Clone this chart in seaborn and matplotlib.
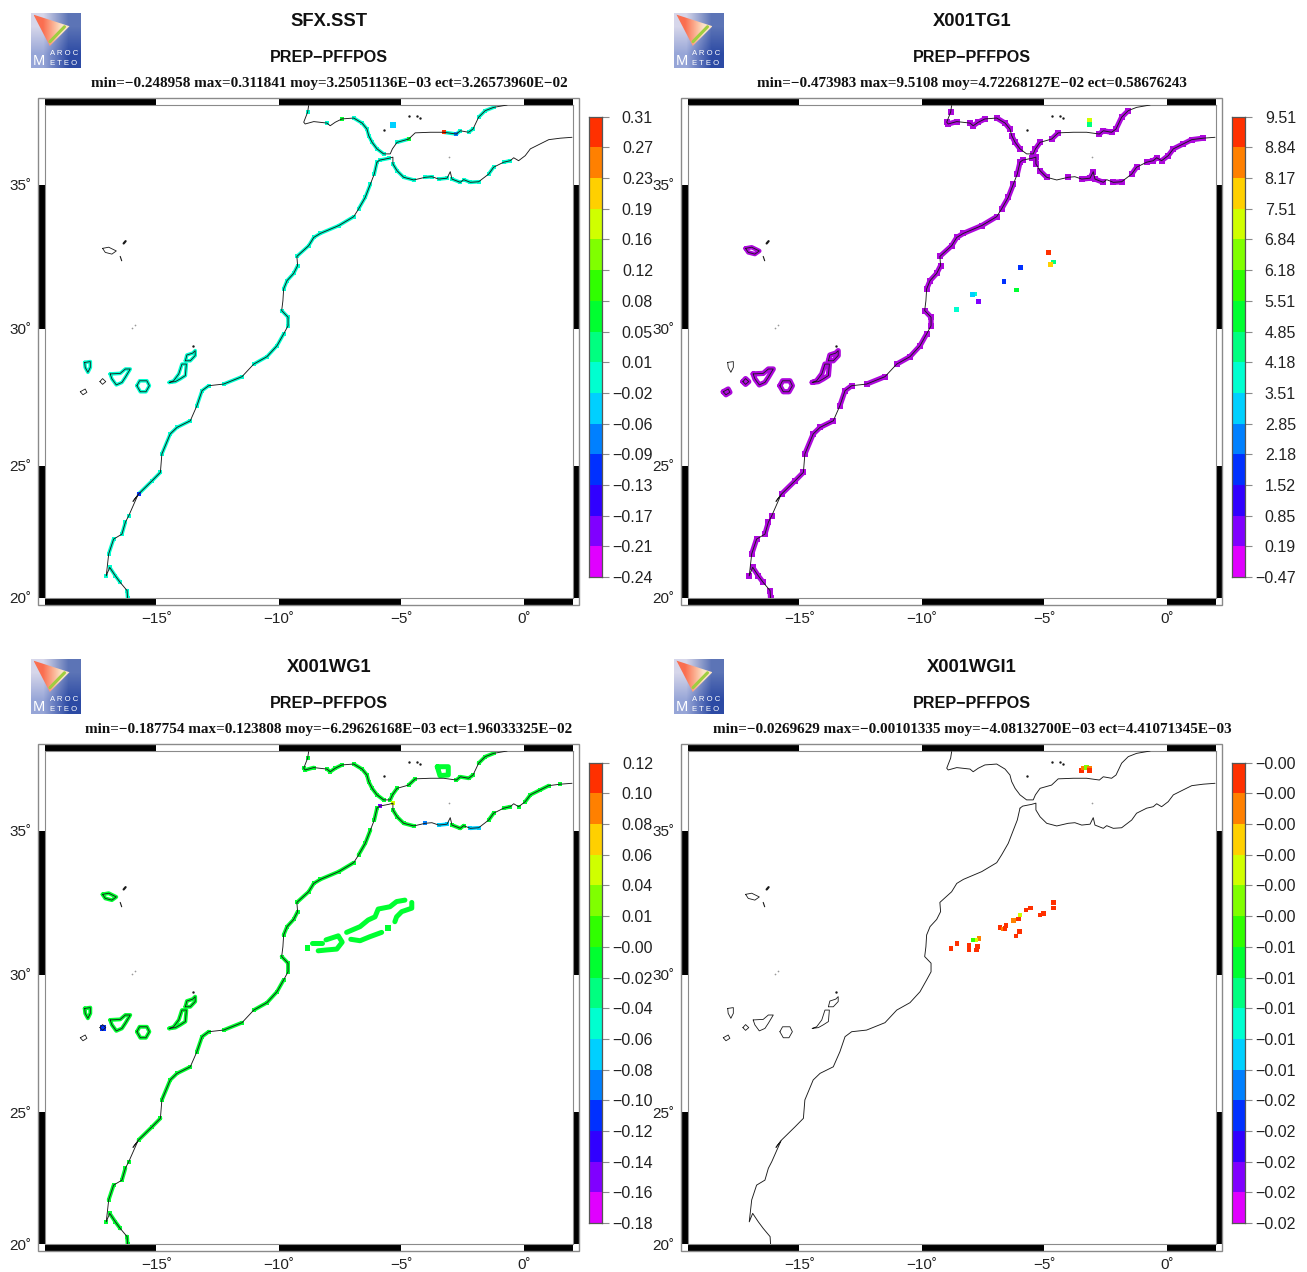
import numpy as np
import matplotlib
matplotlib.use('Agg')
import matplotlib.pyplot as plt
import seaborn as sns
from matplotlib.colors import ListedColormap
from matplotlib.patches import Rectangle, Polygon

# Coast (lon, lat)
europe_lon = [-8.79, -8.83, -8.99, -8.93, -8.58, -8.04, -7.91, -7.70, -7.43, -6.95, -6.61, -6.41, -6.34, -6.20, -6.00, -5.73,
              -5.46, -5.37, -5.18, -4.71, -4.44, -3.82, -3.28, -2.76, -2.60, -2.26, -2.08, -1.85, -1.58, -1.24, -0.69]
europe_lat = [37.68, 37.46, 37.12, 37.06, 37.14, 37.09, 37.00, 37.12, 37.23, 37.26, 37.09, 36.89, 36.67, 36.44, 36.22, 36.05,
              36.05, 36.22, 36.44, 36.55, 36.76, 36.78, 36.78, 36.72, 36.83, 36.78, 36.89, 37.29, 37.51, 37.62, 37.70]
med_lon = [-6.00, -5.89, -5.52, -5.35, -5.35, -5.18, -4.91, -4.50, -4.03, -3.76, -3.48, -3.14, -3.01, -2.94, -2.60,
           -2.46, -2.19, -1.85, -1.44, -1.24, -0.83, -0.56, -0.42, -0.22, 0.05, 0.26, 0.67, 1.01, 1.48, 1.96]
med_lat = [35.77, 35.84, 35.90, 35.94, 35.71, 35.48, 35.26, 35.17, 35.26, 35.28, 35.20, 35.23, 35.45, 35.20, 35.09,
           35.18, 35.09, 35.11, 35.37, 35.60, 35.77, 35.82, 35.92, 35.82, 35.99, 36.22, 36.39, 36.53, 36.58, 36.61]
atlantic_lon = [-6.00, -6.11, -6.27, -6.48, -6.75, -6.95, -7.56, -8.31, -8.58, -8.79, -9.27, -9.24, -9.40, -9.67, -9.81, -9.84,
                -9.89, -9.63, -9.63, -9.81, -10.08, -10.49, -11.03, -11.51, -12.26, -12.87, -13.14, -13.35, -13.62, -14.16,
                -14.44, -14.78, -14.84, -15.18, -15.73, -15.96, -15.76, -16.13, -16.27, -16.41, -16.75, -16.95, -17.05,
                -16.91, -16.68, -16.48, -16.20, -16.18]
atlantic_lat = [35.77, 35.37, 35.03, 34.57, 34.17, 33.90, 33.59, 33.32, 33.18, 32.89, 32.52, 32.20, 31.93, 31.68, 31.39, 30.98,
                30.64, 30.41, 30.11, 29.82, 29.39, 28.99, 28.72, 28.26, 27.99, 27.93, 27.75, 27.20, 26.65, 26.41,
                26.17, 25.44, 24.76, 24.44, 23.94, 23.66, 23.90, 23.12, 22.87, 22.42, 22.23, 21.67, 20.84,
                21.16, 20.84, 20.59, 20.28, 20.00]

# Islands
madeira = ([-17.20, -16.95, -16.64, -16.82, -17.09], [32.80, 32.84, 32.71, 32.60, 32.66])
la_palma = ([-17.93, -17.70, -17.70, -17.80, -17.91], [28.78, 28.81, 28.60, 28.42, 28.60])
el_hierro = ([-18.11, -17.91, -17.84, -18.00], [27.71, 27.81, 27.69, 27.60])
gomera = ([-17.31, -17.20, -17.07, -17.20], [28.08, 28.19, 28.08, 27.98])
tenerife = ([-16.89, -16.48, -16.27, -16.07, -16.27, -16.41, -16.64, -16.82], [28.36, 28.38, 28.54, 28.54, 28.24, 28.05, 27.96, 28.18])
gran_canaria = ([-15.80, -15.69, -15.39, -15.29, -15.43, -15.66], [27.93, 28.11, 28.11, 27.93, 27.71, 27.71])
fuerteventura = ([-14.48, -14.23, -14.03, -13.82, -13.78, -13.96, -14.09, -14.30], [28.05, 28.08, 28.18, 28.30, 28.72, 28.72, 28.36, 28.11])
lanzarote = ([-13.82, -13.76, -13.52, -13.42, -13.42, -13.62], [28.84, 29.05, 29.12, 29.21, 29.03, 28.84])
islands = [madeira, la_palma, el_hierro, gomera, tenerife, gran_canaria, fuerteventura, lanzarote]
desertas = ([-16.48, -16.42], [32.52, 32.37])
porto_santo = ([-16.34, -16.26], [32.97, 33.05])
islet_lon = [-13.50, -4.68, -4.37, -4.26, -5.71]
islet_lat = [29.37, 37.32, 37.34, 37.27, 36.86]
faint_lon = [-15.87, -16.00, -3.07]
faint_lat = [30.14, 30.03, 35.96]

# Colour levels, bottom of the scale first
level_colours = ['#e000ff', '#8000ff', '#3000ff', '#0030ff', '#0080ff', '#00d0ff', '#00ffd0', '#00ff80',
                 '#00ff30', '#30ff00', '#80ff00', '#d0ff00', '#ffd000', '#ff8000', '#ff3000']
tg1_coast_colour = '#ad08dc'

# Stretches of coast carrying values: first vertex, last vertex
atlantic_runs = [(0, 1), (2, 3), (3, 4), (5, 6), (6, 7), (7, 8), (8, 10), (11, 14), (16, 18), (19, 22), (23, 24), (25, 27),
                 (28, 30), (30, 31), (32, 34), (37, 37), (38, 39), (40, 41), (42, 42), (43, 45), (46, 47)]
sst_europe_runs = [(1, 1), (5, 5), (8, 8), (9, 11), (11, 15), (18, 19), (22, 24), (25, 26), (27, 29)]
sst_med_runs = [(1, 2), (4, 7), (8, 9), (10, 11), (13, 14), (15, 17), (18, 19), (20, 21)]
tg1_europe_runs = [(1, 1), (2, 4), (5, 8), (9, 11), (12, 14), (16, 18), (19, 20), (23, 25), (26, 28)]
tg1_med_runs = [(0, 1), (2, 4), (5, 6), (8, 8), (10, 12), (13, 14), (16, 17), (18, 19), (20, 22), (23, 28)]
wg1_europe_runs = [(1, 1), (2, 4), (5, 8), (9, 11), (11, 15), (16, 18), (19, 20), (23, 26), (27, 29)]
wg1_med_runs = [(4, 7), (13, 15), (18, 19), (20, 21), (23, 23), (24, 27), (28, 28)]

# Single grid cells off the coast
tg1_cell_lon = [-3.16, -3.17, -4.83, -4.62, -4.75, -5.99, -6.65, -6.15, -7.84, -7.93, -7.70, -8.58]
tg1_cell_lat = [37.17, 37.05, 32.65, 32.33, 32.23, 32.14, 31.64, 31.36, 31.22, 31.19, 30.96, 30.68]
tg1_cell_level = [11, 7, 14, 7, 12, 3, 3, 8, 6, 5, 1, 6]
wgi_cell_lon = [-8.82, -8.57, -8.08, -8.08, -7.73, -7.77, -7.67, -7.81, -7.91, -6.82, -6.68, -6.57, -6.61, -6.27, -6.07, -6.00,
                -5.76, -5.56, -6.03, -6.16, -5.18, -5.05, -4.64, -4.64, -3.48, -3.42, -3.28, -3.17, -3.17]
wgi_cell_lat = [30.93, 31.09, 31.04, 30.89, 30.98, 30.87, 31.27, 31.22, 31.22, 31.64, 31.60, 31.71, 31.62, 31.90, 31.94, 32.09,
                32.26, 32.32, 31.50, 31.36, 32.08, 32.14, 32.52, 32.33, 37.04, 37.12, 37.15, 37.12, 37.04]
wgi_cell_level = [14, 14, 14, 14, 14, 14, 13, 11, 9, 14, 13, 14, 14, 13, 14, 11, 14, 14, 14, 14, 14, 14, 14, 14, 14, 13, 10, 13, 14]

# Green bands inland on X001WG1
wg1_band_a = ([-4.86, -5.20, -5.47, -5.95, -6.08, -6.36, -6.69, -7.24], [32.60, 32.55, 32.37, 32.29, 32.02, 31.91, 31.68, 31.48])
wg1_band_b = ([-4.58, -4.58, -4.99, -5.20, -5.27], [32.52, 32.32, 32.20, 32.02, 31.85])
wg1_band_c = ([-5.81, -6.29, -6.69, -7.07], [31.48, 31.33, 31.19, 31.24])
wg1_band_d = ([-8.08, -7.58, -7.42, -7.64, -8.05, -8.40], [31.22, 31.36, 31.14, 30.90, 30.87, 30.84])
wg1_band_e = ([-8.67, -8.26], [31.12, 31.12])
wg1_ring = ([-3.54, -3.09, -3.09, -3.43, -3.54], [37.17, 37.17, 36.89, 36.87, 37.17])

# Panel texts
titles = ['SFX.SST', 'X001TG1', 'X001WG1', 'X001WGI1']
stats = ['min=\u22120.248958 max=0.311841 moy=3.25051136E\u221203 ect=3.26573960E\u221202',
         'min=\u22120.473983 max=9.5108 moy=4.72268127E\u221202 ect=0.58676243',
         'min=\u22120.187754 max=0.123808 moy=\u22126.29626168E\u221203 ect=1.96033325E\u221202',
         'min=\u22120.0269629 max=\u22120.00101335 moy=\u22124.08132700E\u221203 ect=4.41071345E\u221203']
bar_labels = [
    ['0.31', '0.27', '0.23', '0.19', '0.16', '0.12', '0.08', '0.05', '0.01', '\u22120.02', '\u22120.06', '\u22120.09', '\u22120.13', '\u22120.17', '\u22120.21', '\u22120.24'],
    ['9.51', '8.84', '8.17', '7.51', '6.84', '6.18', '5.51', '4.85', '4.18', '3.51', '2.85', '2.18', '1.52', '0.85', '0.19', '\u22120.47'],
    ['0.12', '0.10', '0.08', '0.06', '0.04', '0.01', '\u22120.00', '\u22120.02', '\u22120.04', '\u22120.06', '\u22120.08', '\u22120.10', '\u22120.12', '\u22120.14', '\u22120.16', '\u22120.18'],
    ['\u22120.00'] * 6 + ['\u22120.01'] * 5 + ['\u22120.02'] * 5,
]

# Map projection of the plots: latitude -> screen height
lat_knots = [10, 20, 25, 30, 35, 37.7, 45]
height_knots = [-264, 0, 132, 269, 413, 493, 730]
lon_ticks = [-15, -10, -5, 0]
lat_ticks = [20, 25, 30, 35]
lon_lim = (-19.55, 1.98)
lat_lim = (20, 37.7)

WIDTH, HEIGHT = 1307, 1272
GREY = '#8a8a8a'

sns.set_theme(style='white')
plt.rcParams['font.family'] = ['Liberation Sans', 'DejaVu Sans']

fig = plt.figure(figsize=(WIDTH / 100, HEIGHT / 100), dpi=100)


def px_axes(x0, y0, x1, y1):
    return fig.add_axes([x0 / WIDTH, 1 - y1 / HEIGHT, (x1 - x0) / WIDTH, (y1 - y0) / HEIGHT])


def colour_of(level):
    return level_colours[level] if isinstance(level, int) else level


def draw_runs(ax, lon, lat, runs, level, width):
    lon = np.asarray(lon)
    lat = np.asarray(lat)
    colour = colour_of(level)
    for a, b in runs:
        sns.scatterplot(x=lon[a:b + 1], y=lat[a:b + 1], color=colour, marker='s', s=width ** 2 * 1.2, linewidth=0, ax=ax, zorder=2)
        if b > a:
            sns.lineplot(x=lon[a:b + 1], y=lat[a:b + 1], color=colour, lw=width, sort=False, estimator=None, ax=ax, zorder=2)


def draw_island(ax, island, level, width):
    lon = list(island[0]) + [island[0][0]]
    lat = list(island[1]) + [island[1][0]]
    sns.lineplot(x=lon, y=lat, color=colour_of(level), lw=width, sort=False, estimator=None, ax=ax, zorder=2)


def draw_cells(ax, lon, lat, levels, size):
    sns.scatterplot(x=lon, y=lat, hue=levels, palette=dict(enumerate(level_colours)), marker='s', s=size, linewidth=0,
                    legend=False, ax=ax, zorder=3)


def draw_coast(ax):
    for lon, lat in [(europe_lon, europe_lat), (med_lon, med_lat), (atlantic_lon, atlantic_lat)]:
        sns.lineplot(x=lon, y=lat, color='#1a1a1a', lw=0.65, sort=False, estimator=None, ax=ax, zorder=4)
    for island in islands:
        lon = list(island[0]) + [island[0][0]]
        lat = list(island[1]) + [island[1][0]]
        sns.lineplot(x=lon, y=lat, color='#1a1a1a', lw=0.6, sort=False, estimator=None, ax=ax, zorder=4)
    sns.lineplot(x=desertas[0], y=desertas[1], color='#1a1a1a', lw=0.8, sort=False, estimator=None, ax=ax, zorder=4)
    sns.lineplot(x=porto_santo[0], y=porto_santo[1], color='#1a1a1a', lw=1.6, sort=False, estimator=None, ax=ax, zorder=4)
    sns.scatterplot(x=islet_lon, y=islet_lat, color='#1a1a1a', s=3, linewidth=0, ax=ax, zorder=4)
    sns.scatterplot(x=faint_lon, y=faint_lat, color='#9a9a9a', s=1.5, linewidth=0, ax=ax, zorder=4)


def zebra(ax):
    lon_edges = [lon_lim[0], -15, -10, -5, 0, lon_lim[1]]
    lat_edges = [20, 25, 30, 35, lat_lim[1]]
    band_x = 6.8 / 527.5
    band_y = 7 / 493
    xt = ax.get_xaxis_transform()
    yt = ax.get_yaxis_transform()
    for i in range(0, 5, 2):
        w = lon_edges[i + 1] - lon_edges[i]
        ax.add_patch(Rectangle((lon_edges[i], 1), w, band_y, transform=xt, color='black', lw=0, clip_on=False))
        ax.add_patch(Rectangle((lon_edges[i], -band_y), w, band_y, transform=xt, color='black', lw=0, clip_on=False))
    for i in range(0, 4, 2):
        h = lat_edges[i + 1] - lat_edges[i]
        ax.add_patch(Rectangle((-band_x, lat_edges[i]), band_x, h, transform=yt, color='black', lw=0, clip_on=False))
        ax.add_patch(Rectangle((1, lat_edges[i]), band_x, h, transform=yt, color='black', lw=0, clip_on=False))
    ax.add_patch(Rectangle((-band_x, -band_y), 1 + 2 * band_x, 1 + 2 * band_y, transform=ax.transAxes, fill=False,
                           edgecolor=GREY, lw=1.0, clip_on=False))


def logo(x0, y0):
    ax = px_axes(x0, y0, x0 + 50, y0 + 55)
    ax.set_axis_off()
    corners = np.array([[[214, 214, 234], [92, 116, 182]], [[150, 165, 215], [44, 74, 164]]], dtype=np.uint8)
    ax.imshow(corners, extent=(0, 1, 1, 0), aspect='auto', interpolation='bilinear')
    fan = np.array([[[250, 110, 80], [252, 226, 196]]], dtype=np.uint8)
    fan_im = ax.imshow(fan, extent=(0.05, 0.77, 1, 0), aspect='auto', interpolation='bilinear')
    fan_im.set_clip_path(Polygon([(0.05, 0.03), (0.77, 0.24), (0.375, 0.6)], transform=ax.transData))
    ax.plot([0.67, 0.38], [0.25, 0.52], color='#9fce3f', lw=2.2)
    ax.text(0.03, 0.87, 'M', color='white', fontsize=10.5, ha='left', va='center')
    ax.text(0.37, 0.74, 'A R O C', color='white', fontsize=5.6, ha='left', va='center')
    ax.text(0.37, 0.91, 'E T E O', color='white', fontsize=5.6, ha='left', va='center')
    ax.set_xlim(0, 1)
    ax.set_ylim(1, 0)


def panel(index):
    dx = 643 * (index % 2)
    dy = 646 * (index // 2)
    ax = px_axes(45 + dx, 105 + dy, 572.5 + dx, 598 + dy)
    ax.set_yscale('function', functions=(lambda v: np.interp(v, lat_knots, height_knots),
                                         lambda v: np.interp(v, height_knots, lat_knots)))
    ax.set_facecolor('white')

    if index == 0:
        draw_runs(ax, europe_lon, europe_lat, sst_europe_runs, 6, 2.6)
        draw_runs(ax, med_lon, med_lat, sst_med_runs, 6, 2.6)
        draw_runs(ax, atlantic_lon, atlantic_lat, atlantic_runs, 6, 2.6)
        draw_runs(ax, europe_lon, europe_lat, [(22, 22)], 14, 2.6)
        draw_runs(ax, europe_lon, europe_lat, [(23, 23)], 4, 2.6)
        draw_runs(ax, europe_lon, europe_lat, [(8, 8), (19, 19)], 8, 2.6)
        draw_runs(ax, atlantic_lon, atlantic_lat, [(34, 34)], 3, 2.2)
        for island in [la_palma, tenerife, gran_canaria, fuerteventura, lanzarote]:
            draw_island(ax, island, 6, 2.6)
        draw_cells(ax, [-5.35], [37.03], [5], 14)
    elif index == 1:
        draw_runs(ax, europe_lon, europe_lat, tg1_europe_runs, tg1_coast_colour, 3.8)
        draw_runs(ax, med_lon, med_lat, tg1_med_runs, tg1_coast_colour, 3.8)
        draw_runs(ax, atlantic_lon, atlantic_lat, atlantic_runs, tg1_coast_colour, 3.8)
        for island in islands[2:]:
            draw_island(ax, island, tg1_coast_colour, 3.8)
        draw_island(ax, madeira, tg1_coast_colour, 3.2)
        draw_cells(ax, tg1_cell_lon, tg1_cell_lat, tg1_cell_level, 11)
    elif index == 2:
        draw_runs(ax, europe_lon, europe_lat, wg1_europe_runs, 8, 2.8)
        draw_runs(ax, med_lon, med_lat, wg1_med_runs, 8, 2.8)
        draw_runs(ax, med_lon, med_lat, [(8, 8)], 4, 2.6)
        draw_runs(ax, med_lon, med_lat, [(10, 11), (16, 17)], 5, 2.6)
        draw_runs(ax, med_lon, med_lat, [(1, 1)], 1, 2.2)
        draw_runs(ax, med_lon, med_lat, [(3, 3)], 11, 2.2)
        draw_runs(ax, atlantic_lon, atlantic_lat, atlantic_runs, 8, 2.8)
        for island in [madeira, la_palma, tenerife, gran_canaria, fuerteventura, lanzarote]:
            draw_island(ax, island, 8, 2.8)
        draw_cells(ax, [-17.20], [28.08], [3], 14)
        for band in [wg1_band_a, wg1_band_b, wg1_band_c, wg1_band_d, wg1_band_e, wg1_ring]:
            sns.lineplot(x=band[0], y=band[1], color=level_colours[8], lw=3.6, sort=False, estimator=None, ax=ax, zorder=2)
        draw_cells(ax, [-5.54, -8.84], [31.64, 30.93], [8, 8], 16)
    else:
        draw_cells(ax, wgi_cell_lon, wgi_cell_lat, wgi_cell_level, 11)
    draw_coast(ax)

    ax.set_xlim(*lon_lim)
    ax.set_ylim(*lat_lim)
    ax.set_xlabel('')
    ax.set_ylabel('')
    ax.set_xticks(lon_ticks)
    ax.set_xticklabels([str(v).replace('-', '\u2212') + '\u02da' for v in lon_ticks], fontsize=11, color='#222222')
    ax.set_yticks(lat_ticks)
    ax.set_yticklabels([str(v) + '\u02da' for v in lat_ticks], fontsize=11, color='#222222')
    ax.minorticks_off()
    ax.tick_params(axis='both', which='both', length=0, pad=10)
    for spine in ax.spines.values():
        spine.set_color(GREY)
        spine.set_linewidth(0.8)
    zebra(ax)

    # colour bar
    cax = px_axes(589 + dx, 116.7 + dy, 601.5 + dx, 577 + dy)
    sns.heatmap(np.arange(15)[::-1].reshape(-1, 1), cmap=ListedColormap(level_colours), vmin=0, vmax=14, cbar=False,
                xticklabels=False, yticklabels=False, ax=cax)
    cax.set_yticks(np.arange(16))
    cax.set_yticklabels(bar_labels[index], fontsize=11.5, color='#222222')
    cax.tick_params(axis='y', left=False, right=True, labelleft=False, labelright=True, length=5, width=0.8, color=GREY, pad=32, rotation=0)
    for label in cax.get_yticklabels():
        label.set_ha('right')
    for spine in cax.spines.values():
        spine.set_visible(True)
        spine.set_color('#555555')
        spine.set_linewidth(0.9)

    logo(31 + dx, 13 + dy)

    cx = (329 + dx) / WIDTH
    fig.text(cx, 1 - (22 + dy) / HEIGHT, titles[index], fontsize=13.2, fontweight='bold', ha='center', va='center', color='#111111')
    fig.text(cx, 1 - (58 + dy) / HEIGHT, 'PREP\u2212PFFPOS', fontsize=11.6, fontweight='bold', ha='center', va='center', color='#111111')
    fig.text(cx, 1 - (83.5 + dy) / HEIGHT, stats[index], fontsize=10.9, fontweight='bold', ha='center', va='center',
             family='Liberation Serif', color='#111111')


for i in range(4):
    panel(i)

fig.savefig('out.png', dpi=100, facecolor='white')
